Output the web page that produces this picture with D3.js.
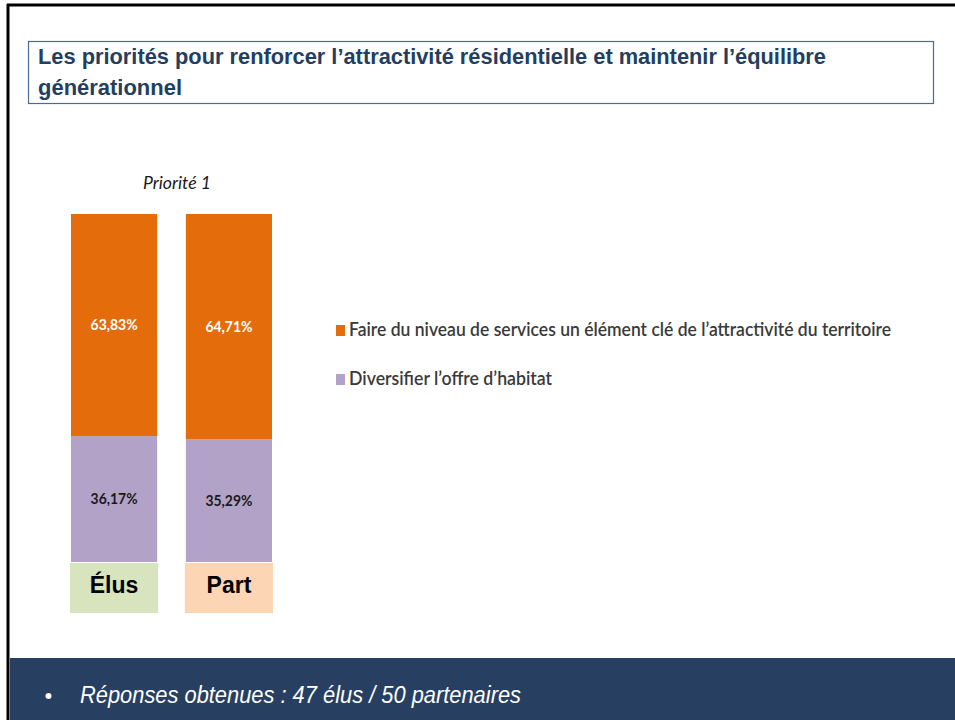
<!DOCTYPE html>
<html>
<head>
<meta charset="utf-8">
<script src="https://cdn.jsdelivr.net/npm/d3@7"></script>
<style>
  body { margin: 0; background: #fff; }
  svg { display: block; }
</style>
</head>
<body>
<svg id="chart" width="955" height="720"></svg>
<script>
// chart values
const categories = ['Élus', 'Part'];
const services = [63.83, 64.71];
const habitat = [36.17, 35.29];
const seriesNames = [
  "Faire du niveau de services un élément clé de l’attractivité du territoire",
  "Diversifier l’offre d’habitat"
];
const titleLines = [
  "Les priorités pour renforcer l’attractivité résidentielle et maintenir l’équilibre",
  "générationnel"
];
const subtitle = 'Priorité 1';
const footnote = 'Réponses obtenues : 47 élus / 50 partenaires';

const colors = ['#e46c0a', '#b3a2c7'];
const catFill = ['#d7e4bd', '#fcd5b5'];
const labelColors = ['#ffffff', '#1a1a1a'];

const svg = d3.select('#chart');

// frame of the slide
svg.append('rect').attr('x', 0).attr('y', 0).attr('width', 955).attr('height', 720).attr('fill', '#fff');
svg.append('line').attr('x1', 7).attr('x2', 955).attr('y1', 5).attr('y2', 5)
  .attr('stroke', '#000').attr('stroke-width', 3);
svg.append('line').attr('x1', 8).attr('x2', 8).attr('y1', 4).attr('y2', 720)
  .attr('stroke', '#000').attr('stroke-width', 3);

// title box
svg.append('rect').attr('x', 28.5).attr('y', 41.5).attr('width', 905).attr('height', 62)
  .attr('fill', 'none').attr('stroke', '#4d6a92').attr('stroke-width', 1.2);
svg.append('g').selectAll('text').data(titleLines).join('text')
  .attr('x', 38).attr('y', (d, i) => 64 + i * 31)
  .attr('font-family', 'Liberation Sans, Arial, sans-serif')
  .attr('font-weight', 'bold').attr('font-size', 22)
  .attr('fill', '#233e5f')
  .attr('textLength', (d, i) => i === 0 ? 788 : 144)
  .attr('lengthAdjust', 'spacingAndGlyphs')
  .text(d => d);

// bottom banner
svg.append('rect').attr('x', 10).attr('y', 658).attr('width', 945).attr('height', 62).attr('fill', '#274061');
svg.append('circle').attr('cx', 48.5).attr('cy', 696).attr('r', 3).attr('fill', '#fff');
svg.append('text').attr('x', 80).attr('y', 703)
  .attr('font-family', 'Liberation Sans, Arial, sans-serif')
  .attr('font-style', 'italic').attr('font-size', 23)
  .attr('fill', '#fff')
  .attr('textLength', 441).attr('lengthAdjust', 'spacingAndGlyphs')
  .text(footnote);

// scales
const x = d3.scaleBand().domain(categories).range([71, 272]).paddingInner(0.25).paddingOuter(0);
const y = d3.scaleLinear().domain([0, 100]).range([562, 214]);

const rows = categories.map((c, i) => ({ cat: c, s0: services[i], s1: habitat[i] }));
const stack = d3.stack().keys(['s1', 's0']);
const layers = stack(rows);
// stack keys: bottom = habitat, top = services
const layerColor = { s0: colors[0], s1: colors[1] };
const layerLabel = { s0: labelColors[0], s1: labelColors[1] };

svg.append('text').attr('x', 177).attr('y', 189)
  .attr('text-anchor', 'middle')
  .attr('font-family', 'Lato, Open Sans, sans-serif')
  .attr('font-style', 'italic').attr('font-size', 17)
  .attr('fill', '#1a1a1a')
  .attr('textLength', 68).attr('lengthAdjust', 'spacingAndGlyphs')
  .text(subtitle);

const g = svg.append('g');
layers.forEach(layer => {
  g.append('g').selectAll('rect').data(layer).join('rect')
    .attr('x', d => x(d.data.cat))
    .attr('y', d => y(d[1]))
    .attr('width', x.bandwidth())
    .attr('height', d => y(d[0]) - y(d[1]))
    .attr('fill', layerColor[layer.key]);
  g.append('g').selectAll('text').data(layer).join('text')
    .attr('x', d => x(d.data.cat) + x.bandwidth() / 2)
    .attr('y', d => (y(d[0]) + y(d[1])) / 2 + 5)
    .attr('text-anchor', 'middle')
    .attr('font-family', 'Lato, Open Sans, sans-serif')
    .attr('font-weight', 'bold').attr('font-size', 15)
    .attr('fill', layerLabel[layer.key])
    .attr('textLength', 47).attr('lengthAdjust', 'spacingAndGlyphs')
    .text(d => (d[1] - d[0]).toFixed(2).replace('.', ',') + '%');
});

// category boxes under the bars
const cats = svg.append('g').selectAll('g').data(categories).join('g');
cats.append('rect')
  .attr('x', d => x(d) - 1).attr('y', y(0) + 1)
  .attr('width', x.bandwidth() + 2).attr('height', 50)
  .attr('fill', (d, i) => catFill[i]);
cats.append('text')
  .attr('x', d => x(d) + x.bandwidth() / 2).attr('y', y(0) + 31)
  .attr('text-anchor', 'middle')
  .attr('font-family', 'Liberation Sans, Arial, sans-serif')
  .attr('font-weight', 'bold').attr('font-size', 23)
  .attr('fill', '#000')
  .text(d => d);

// legend
const legend = svg.append('g').selectAll('g').data(seriesNames).join('g')
  .attr('transform', (d, i) => `translate(336, ${325 + i * 49})`);
legend.append('rect').attr('width', 9).attr('height', 11).attr('fill', (d, i) => colors[i]);
legend.append('text').attr('x', 13).attr('y', 11)
  .attr('font-family', 'Lato, Open Sans, sans-serif')
  .attr('font-size', 19).attr('font-weight', 600)
  .attr('fill', '#3a3a3a')
  .attr('textLength', (d, i) => i === 0 ? 542 : 203)
  .attr('lengthAdjust', 'spacingAndGlyphs')
  .text(d => d);
</script>
</body>
</html>
